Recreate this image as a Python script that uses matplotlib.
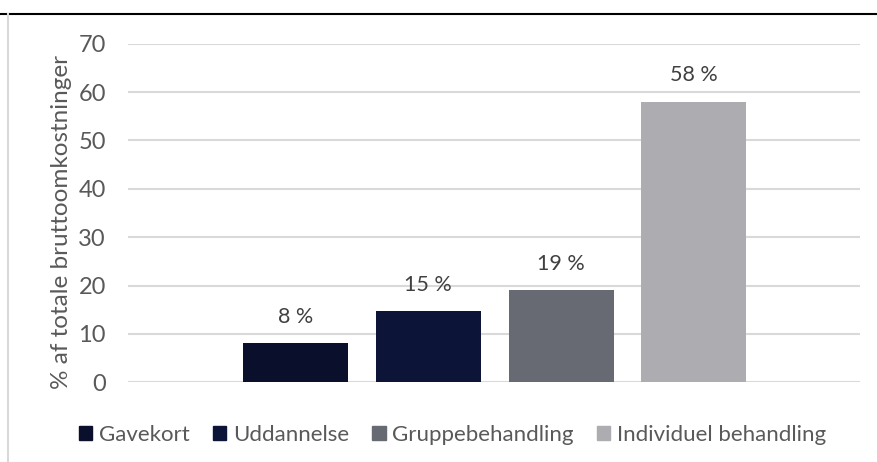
import matplotlib.pyplot as plt
from matplotlib.lines import Line2D
from matplotlib.patches import Patch

categories = ["Gavekort", "Uddannelse", "Gruppebehandling", "Individuel behandling"]
values = [8.1, 14.7, 19.1, 58.0]
labels = ["8 %", "15 %", "19 %", "58 %"]
colors = ["#0a0f2c", "#0c1438", "#686a73", "#adadb1"]

plt.rcParams["font.family"] = ["Lato", "DejaVu Sans"]

fig = plt.figure(figsize=(8.77, 4.62), dpi=100)
ax = fig.add_axes([0.146, 0.1725, 0.835, 0.733])

x = list(range(len(categories)))
ax.bar(x, values, width=0.79, color=colors, zorder=3)

# data labels above bars
for xi, v, lab in zip(x, values, labels):
    ax.annotate(lab, (xi, v), xytext=(0, 19), textcoords="offset points",
                ha="center", va="center", fontsize=15.5, color="#404040")

ax.set_xlim(-1.262, 4.254)
ax.set_ylim(0, 70)
ax.set_yticks(range(0, 71, 10))
ax.set_xticks([])
ax.yaxis.grid(True, color="#d9d9d9", linewidth=1.5, zorder=0)
ax.tick_params(axis="y", length=0, pad=16, labelsize=17, labelcolor="#595959")
for s in ax.spines.values():
    s.set_visible(False)

ax.set_ylabel("% af totale bruttoomkostninger", fontsize=17.5, color="#595959")
ax.yaxis.set_label_coords(-0.0765, 0.473)

handles = [Patch(color=c) for c in colors]
fig.legend(handles, categories, loc="center", bbox_to_anchor=(0.516, 0.058),
           ncol=4, frameon=False, fontsize=16, labelcolor="#595959",
           handlelength=0.6, handleheight=0.6, handletextpad=0.3, columnspacing=1.05)

# frame lines around the chart
fig.add_artist(Line2D([0, 1], [1 - 13.5 / 462] * 2, color="black", linewidth=1.5))
fig.add_artist(Line2D([7.5 / 877] * 2, [0, 1 - 14 / 462], color="#d9d9d9", linewidth=1.5))

fig.savefig("out.png", dpi=100)
